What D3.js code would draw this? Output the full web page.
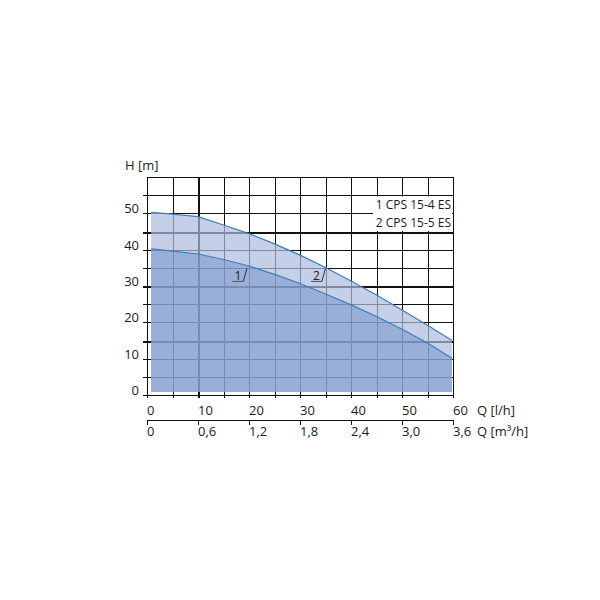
<!DOCTYPE html>
<html><head><meta charset="utf-8">
<script src="https://cdn.jsdelivr.net/npm/d3@7"></script>
<style>
html,body{margin:0;padding:0;background:#fff;}
text{font-family:"Open Sans","Noto Sans",sans-serif;fill:#1a1a1a;}
</style></head>
<body><svg id="c" width="600" height="600"></svg>
<script>
// ---- data ----
const flowLh = [0.8, 5, 10, 15, 20, 25, 30, 35, 40, 45, 50, 55, 59.8];
const headPump1 = [40.2, 39.6, 38.8, 37.3, 35.5, 33.2, 30.7, 27.8, 24.8, 21.6, 18.1, 14.3, 10.1];
const headPump2 = [50.3, 49.8, 49.1, 46.8, 44.4, 41.6, 38.5, 35.1, 31.4, 27.5, 23.4, 19.2, 15.0];
const seriesNames = ["1 CPS 15-4 ES", "2 CPS 15-5 ES"];
const yTicks = [0, 10, 20, 30, 40, 50];
const xTicks = [0, 10, 20, 30, 40, 50, 60];
const x2Ticks = [0, 0.6, 1.2, 1.8, 2.4, 3.0, 3.6];
const x2Labels = ["0", "0,6", "1,2", "1,8", "2,4", "3,0", "3,6"];
const curveLabelText = ["1", "2"];
const curveLabelQ = [18.9, 34.3];
const curveLabelH = [31.4, 31.4];
const gridStepQ = 5, gridStepH = 5;
const thickQ = [10], thickH = [15, 30, 45];

const svg = d3.select("#c");
const x = d3.scaleLinear().domain([0, 60]).range([147, 453]);
const x2 = d3.scaleLinear().domain([0, 3.6]).range([147, 453]);
const y = d3.scaleLinear().domain([0, 60]).range([395, 177]);

const pts1 = flowLh.map((q, i) => ({q, h: headPump1[i]}));
const pts2 = flowLh.map((q, i) => ({q, h: headPump2[i]}));

// grid
const g = svg.append("g").attr("shape-rendering", "crispEdges");
const qGrid = d3.range(0, 60 + 0.001, gridStepQ);
const hGrid = d3.range(0, 60 + 0.001, gridStepH);
g.selectAll(".vg").data(qGrid).join("line")
  .attr("x1", d => Math.round(x(d)) + 0.5).attr("x2", d => Math.round(x(d)) + 0.5)
  .attr("y1", y(60)).attr("y2", y(0))
  .attr("stroke", "#111").attr("stroke-width", d => thickQ.includes(d) ? 2 : 1);
g.selectAll(".hg").data(hGrid).join("line")
  .attr("y1", d => Math.round(y(d)) + 0.5).attr("y2", d => Math.round(y(d)) + 0.5)
  .attr("x1", x(0)).attr("x2", x(60))
  .attr("stroke", "#111").attr("stroke-width", d => thickH.includes(d) ? 2 : 1);
// left ticks
g.selectAll(".lt").data(hGrid.filter(d => d < 60)).join("line")
  .attr("y1", d => Math.round(y(d)) + 0.5).attr("y2", d => Math.round(y(d)) + 0.5)
  .attr("x1", x(0) - 4).attr("x2", x(0))
  .attr("stroke", "#111").attr("stroke-width", d => thickH.includes(d) ? 2 : 1);
// bottom ticks
g.selectAll(".bt").data(qGrid).join("line")
  .attr("x1", d => Math.round(x(d)) + 0.5).attr("x2", d => Math.round(x(d)) + 0.5)
  .attr("y1", y(0)).attr("y2", y(0) + 3)
  .attr("stroke", "#111").attr("stroke-width", d => thickQ.includes(d) ? 2 : 1);

// areas
const base = y(0) - 3;
const area = d3.area().x(d => x(d.q)).y0(base).y1(d => y(d.h));
svg.append("path").datum(pts2).attr("d", area)
  .attr("fill", "rgb(172,187,222)").attr("fill-opacity", 0.7);
svg.append("path").datum(pts1).attr("d", area)
  .attr("fill", "rgb(112,144,200)").attr("fill-opacity", 0.5);
const line = d3.line().x(d => x(d.q)).y(d => y(d.h));
[pts1, pts2].forEach(p => svg.append("path").datum(p).attr("d", line)
  .attr("fill", "none").attr("stroke", "#3a7dbf").attr("stroke-width", 1.2));

// legend box
svg.append("rect").attr("x", 373).attr("y", Math.round(y(55)) + 1.5)
  .attr("width", x(60) - 373 - 1).attr("height", Math.round(y(45)) - Math.round(y(55)) - 2.5)
  .attr("fill", "#fff");
svg.selectAll(".lg").data(seriesNames).join("text")
  .attr("x", 451).attr("y", (d, i) => [209, 227][i])
  .attr("text-anchor", "end").attr("font-size", 12).text(d => d);

// curve labels
curveLabelText.forEach((t, i) => {
  const lx = x(curveLabelQ[i]), ly = y(curveLabelH[i]);
  svg.append("line").attr("x1", lx - 11).attr("x2", lx).attr("y1", ly + 0.5).attr("y2", ly + 0.5)
    .attr("stroke", "#555").attr("stroke-width", 1);
  svg.append("text").attr("x", lx - 5.5).attr("y", ly - 0.5).attr("text-anchor", "middle")
    .attr("font-size", 12).text(t);
  svg.append("line").attr("x1", lx).attr("y1", ly + 0.5).attr("x2", lx + 3.5).attr("y2", ly - 12.5)
    .attr("stroke", "#333").attr("stroke-width", 1);
});

// y axis labels
svg.selectAll(".yl").data(yTicks).join("text")
  .attr("x", 139).attr("y", d => y(d)).attr("text-anchor", "end")
  .attr("font-size", 13).text(d => d);
svg.append("text").attr("x", 125).attr("y", 170).attr("font-size", 13).text("H [m]");

// x axis labels
svg.selectAll(".xl").data(xTicks).join("text")
  .attr("x", d => x(d)).attr("y", 415).attr("font-size", 13).text(d => d);
svg.append("text").attr("x", 477).attr("y", 415).attr("font-size", 13).text("Q [l/h]");

// second axis
const ax2 = svg.append("g").attr("shape-rendering", "crispEdges");
ax2.append("line").attr("x1", x2(0)).attr("x2", x2(3.6)).attr("y1", 420.5).attr("y2", 420.5)
  .attr("stroke", "#111");
ax2.selectAll(".t2").data(x2Ticks).join("line")
  .attr("x1", d => Math.round(x2(d)) + 0.5).attr("x2", d => Math.round(x2(d)) + 0.5)
  .attr("y1", 420).attr("y2", 425).attr("stroke", "#111");
svg.selectAll(".x2l").data(x2Ticks).join("text")
  .attr("x", d => x2(d)).attr("y", 436).attr("font-size", 13).text((d, i) => x2Labels[i]);
svg.append("text").attr("x", 477).attr("y", 436).attr("font-size", 13).text("Q [m³/h]");
</script></body></html>
